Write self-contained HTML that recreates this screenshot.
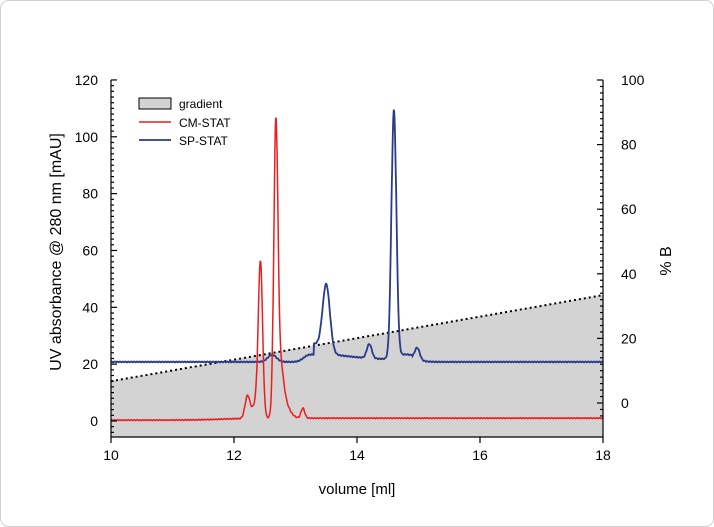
<!DOCTYPE html>
<html><head><meta charset="utf-8"><style>
body{margin:0;background:#fff}
svg{display:block;font-family:"Liberation Sans",sans-serif}
</style></head><body>
<svg id="s" width="714" height="527" xmlns="http://www.w3.org/2000/svg">
<rect x="0.5" y="0.5" width="713" height="526" rx="8" fill="#fff" stroke="#d0d0d0"/>
<polygon id="grad" fill="#d3d3d3"/>
<line id="gl" stroke="#000" stroke-width="2" stroke-dasharray="2,3"/>
<path id="blue" fill="none" stroke="#2b3a8a" stroke-width="1.8"/>
<path id="red" fill="none" stroke="#ee1c1c" stroke-width="1.5"/>
<g id="ax" stroke="#000" stroke-width="1.2" fill="none"></g>
<g id="tx" font-size="14" fill="#000"></g>
<g font-size="12">
<rect x="139" y="98" width="32" height="11" fill="#d3d3d3" stroke="#000" stroke-width="1"/>
<text x="179" y="108">gradient</text>
<line x1="139" y1="122" x2="171" y2="122" stroke="#ee1c1c" stroke-width="1.5"/>
<text x="179" y="127">CM-STAT</text>
<line x1="139" y1="140" x2="171" y2="140" stroke="#2b3a8a" stroke-width="1.8"/>
<text x="179" y="145">SP-STAT</text>
</g>
<text x="357" y="494" font-size="15" text-anchor="middle">volume [ml]</text>
<text transform="translate(61,252) rotate(-90)" font-size="16" text-anchor="middle">UV absorbance @ 280 nm [mAU]</text>
<text transform="translate(671,261) rotate(-90)" font-size="16" text-anchor="middle">% B</text>
</svg>
<script>
const X=v=>111+(v-10)*61.5, Y=v=>421-2.842*v, YR=p=>403-3.23*p;
const L=105,R=603,T=80,B=437;
document.getElementById('grad').setAttribute('points',`${X(10)},${Y(14)} ${X(18)},${Y(44.3)} ${X(18)},${B} ${X(10)},${B}`);
const gl=document.getElementById('gl');
gl.setAttribute('x1',X(10));gl.setAttribute('y1',Y(14));gl.setAttribute('x2',X(18));gl.setAttribute('y2',Y(44.3));
const g=(x,c,h,w)=>h*Math.exp(-((x-c)**2)/(2*w*w));
function path(f){let d='';for(let x=10;x<=18;x+=0.005){const n=Math.sin(x*137)*0.15;d+=(d?'L':'M')+X(x).toFixed(1)+','+Y(f(x)+n).toFixed(1);}return d;}
document.getElementById('red').setAttribute('d',path(x=>{
let b=0.3+0.7/(1+Math.exp(-(x-11.8)*4));
return b+g(x,12.22,8,0.04)+g(x,12.43,54,0.035)+g(x,12.68,98,0.033)+g(x,12.8,6,0.09)+g(x,12.75,14,0.05)+g(x,13.12,3.5,0.03)+g(x,12.35,5,0.05);}));
document.getElementById('blue').setAttribute('d',path(x=>{
let b=20.8+(x>13.3&&x<14.9?3*Math.exp(-(x-13.5)*1.2):0)+g(x,14.8,2,0.15);
return b+g(x,12.62,2.5,0.07)+g(x,13.2,2,0.08)+g(x,13.5,24,0.06)+g(x,14.2,5,0.04)+g(x,14.6,87,0.04)+g(x,14.98,4,0.04)+g(x,13.35,2,0.08);}));
let ax='',tx='';
ax+=`<line x1="${L+6}" y1="${T}" x2="${L+6}" y2="${B}"/><line x1="${R}" y1="${T}" x2="${R}" y2="${B}"/><line x1="${L+6}" y1="${B}" x2="${R}" y2="${B}"/>`;
for(let v=-4;v<=120;v+=2){const y=Y(v);const big=v%20==0;ax+=`<line x1="111" y1="${y}" x2="${big?117:114}" y2="${y}"/>`;if(big)tx+=`<text x="98" y="${y+5}" text-anchor="end">${v}</text>`;}
for(let p=-4;p<=100;p+=2){const y=YR(p);const big=p%20==0;ax+=`<line x1="603" y1="${y}" x2="${big?597:600}" y2="${y}"/>`;if(big)tx+=`<text x="621" y="${y+5}">${p}</text>`;}
for(let v=10;v<=18;v+=2){const x=X(v);ax+=`<line x1="${x}" y1="${B}" x2="${x}" y2="${B+6}"/>`;tx+=`<text x="${x}" y="${B+23}" text-anchor="middle">${v}</text>`;}
document.getElementById('ax').innerHTML=ax;document.getElementById('tx').innerHTML=tx;
</script>
</body></html>
